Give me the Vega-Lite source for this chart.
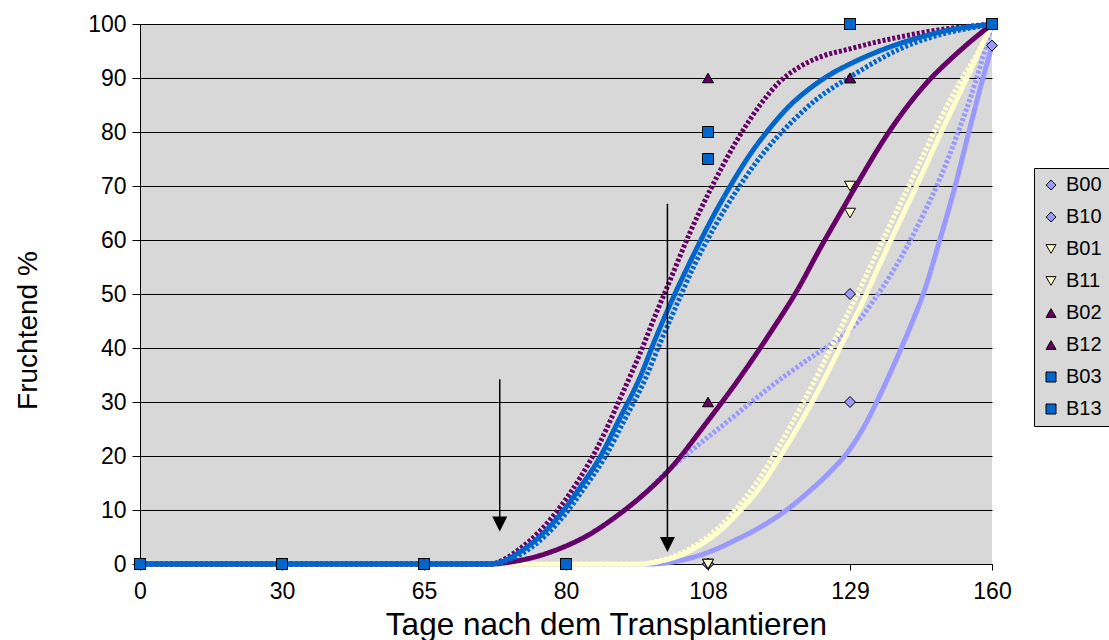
{
  "$schema": "https://vega.github.io/schema/vega-lite/v6.json",
  "autosize": {"type": "none"},
  "padding": {"left": 140, "top": 24, "right": 117, "bottom": 76},
  "width": 852,
  "height": 540,
  "background": "white",
  "config": {
    "view": {"fill": "#D8D8D8", "stroke": null},
    "font": "Liberation Sans",
    "axis": {
      "labelFont": "Liberation Sans",
      "titleFont": "Liberation Sans",
      "labelColor": "black",
      "titleColor": "black",
      "titleFontWeight": "normal",
      "domainColor": "black",
      "tickColor": "black",
      "labelFontSize": 23
    }
  },
  "datasets": {
    "kurven": [
      {"serie": "B00", "tage": 0, "pct": 0}, {"serie": "B00", "tage": 96.6, "pct": 0}, {"serie": "B00", "tage": 100.5, "pct": 0.3},
      {"serie": "B00", "tage": 104.5, "pct": 1.1}, {"serie": "B00", "tage": 108.3, "pct": 2.3}, {"serie": "B00", "tage": 112.0, "pct": 4.4},
      {"serie": "B00", "tage": 115.7, "pct": 6.8}, {"serie": "B00", "tage": 119.4, "pct": 9.8}, {"serie": "B00", "tage": 123.1, "pct": 13.6},
      {"serie": "B00", "tage": 126.0, "pct": 17}, {"serie": "B00", "tage": 129, "pct": 21.3}, {"serie": "B00", "tage": 132.3, "pct": 25.8},
      {"serie": "B00", "tage": 135.5, "pct": 31.2}, {"serie": "B00", "tage": 138.8, "pct": 37.3}, {"serie": "B00", "tage": 142.1, "pct": 43.8},
      {"serie": "B00", "tage": 145.4, "pct": 51}, {"serie": "B00", "tage": 148.6, "pct": 60}, {"serie": "B00", "tage": 151.9, "pct": 69.8},
      {"serie": "B00", "tage": 154.5, "pct": 78.5}, {"serie": "B00", "tage": 157.4, "pct": 88}, {"serie": "B00", "tage": 160, "pct": 96},

      {"serie": "B10", "tage": 0, "pct": 0}, {"serie": "B10", "tage": 72, "pct": 0}, {"serie": "B10", "tage": 74.6, "pct": 0.5},
      {"serie": "B10", "tage": 77.3, "pct": 1.6}, {"serie": "B10", "tage": 79.4, "pct": 2.9}, {"serie": "B10", "tage": 84.1, "pct": 5.2},
      {"serie": "B10", "tage": 90.6, "pct": 9.3}, {"serie": "B10", "tage": 94.6, "pct": 12.3}, {"serie": "B10", "tage": 100.5, "pct": 17.6},
      {"serie": "B10", "tage": 106.4, "pct": 22.3}, {"serie": "B10", "tage": 111.3, "pct": 26.8}, {"serie": "B10", "tage": 115.7, "pct": 31.3},
      {"serie": "B10", "tage": 120.1, "pct": 35.5}, {"serie": "B10", "tage": 124.6, "pct": 39.4}, {"serie": "B10", "tage": 127.5, "pct": 41.8},
      {"serie": "B10", "tage": 129, "pct": 43.4}, {"serie": "B10", "tage": 131.2, "pct": 45.4}, {"serie": "B10", "tage": 134.0, "pct": 48.6},
      {"serie": "B10", "tage": 137.7, "pct": 53.3}, {"serie": "B10", "tage": 141.4, "pct": 58.7}, {"serie": "B10", "tage": 144.3, "pct": 63.5},
      {"serie": "B10", "tage": 148.6, "pct": 71.3}, {"serie": "B10", "tage": 152.4, "pct": 79.5}, {"serie": "B10", "tage": 156.3, "pct": 89},
      {"serie": "B10", "tage": 160, "pct": 100},

      {"serie": "B01", "tage": 0, "pct": 0}, {"serie": "B01", "tage": 94.6, "pct": 0}, {"serie": "B01", "tage": 98.5, "pct": 0.5},
      {"serie": "B01", "tage": 102.5, "pct": 1.6}, {"serie": "B01", "tage": 106.4, "pct": 3.5}, {"serie": "B01", "tage": 109.8, "pct": 6.2},
      {"serie": "B01", "tage": 112.7, "pct": 9.8}, {"serie": "B01", "tage": 115.7, "pct": 14.2}, {"serie": "B01", "tage": 118.6, "pct": 19.8},
      {"serie": "B01", "tage": 121.6, "pct": 26}, {"serie": "B01", "tage": 124.6, "pct": 32.8}, {"serie": "B01", "tage": 127.5, "pct": 40},
      {"serie": "B01", "tage": 131.2, "pct": 47.5}, {"serie": "B01", "tage": 135.5, "pct": 55.5}, {"serie": "B01", "tage": 139.9, "pct": 63.5},
      {"serie": "B01", "tage": 144.3, "pct": 71.4}, {"serie": "B01", "tage": 148.6, "pct": 79.4}, {"serie": "B01", "tage": 153.0, "pct": 87.3},
      {"serie": "B01", "tage": 157.4, "pct": 95.2}, {"serie": "B01", "tage": 160, "pct": 100},

      {"serie": "B11", "tage": 0, "pct": 0}, {"serie": "B11", "tage": 94.6, "pct": 0}, {"serie": "B11", "tage": 98.5, "pct": 0.6},
      {"serie": "B11", "tage": 102.5, "pct": 1.9}, {"serie": "B11", "tage": 106.4, "pct": 4.0}, {"serie": "B11", "tage": 109.8, "pct": 7.0},
      {"serie": "B11", "tage": 112.7, "pct": 11.0}, {"serie": "B11", "tage": 115.7, "pct": 16.0}, {"serie": "B11", "tage": 118.6, "pct": 22.0},
      {"serie": "B11", "tage": 121.6, "pct": 28.8}, {"serie": "B11", "tage": 124.6, "pct": 36}, {"serie": "B11", "tage": 127.5, "pct": 43.4},
      {"serie": "B11", "tage": 131.2, "pct": 51}, {"serie": "B11", "tage": 135.5, "pct": 58.8}, {"serie": "B11", "tage": 139.9, "pct": 66.6},
      {"serie": "B11", "tage": 144.3, "pct": 74.4}, {"serie": "B11", "tage": 148.6, "pct": 82.2}, {"serie": "B11", "tage": 153.0, "pct": 89.2},
      {"serie": "B11", "tage": 157.4, "pct": 95.5}, {"serie": "B11", "tage": 160, "pct": 100},

      {"serie": "B02", "tage": 0, "pct": 0}, {"serie": "B02", "tage": 72, "pct": 0}, {"serie": "B02", "tage": 74.6, "pct": 0.5},
      {"serie": "B02", "tage": 77.3, "pct": 1.6}, {"serie": "B02", "tage": 79.4, "pct": 2.9}, {"serie": "B02", "tage": 84.1, "pct": 5.2},
      {"serie": "B02", "tage": 90.6, "pct": 9.3}, {"serie": "B02", "tage": 94.6, "pct": 12.3}, {"serie": "B02", "tage": 100.5, "pct": 17.6},
      {"serie": "B02", "tage": 107.8, "pct": 26.3}, {"serie": "B02", "tage": 112.7, "pct": 34.5}, {"serie": "B02", "tage": 117.2, "pct": 42.8},
      {"serie": "B02", "tage": 121.2, "pct": 50.7}, {"serie": "B02", "tage": 124.6, "pct": 58.5}, {"serie": "B02", "tage": 127.8, "pct": 65.5},
      {"serie": "B02", "tage": 130.5, "pct": 70.3}, {"serie": "B02", "tage": 137.1, "pct": 79.5}, {"serie": "B02", "tage": 144.9, "pct": 88.3},
      {"serie": "B02", "tage": 152.4, "pct": 94.6}, {"serie": "B02", "tage": 160, "pct": 100},

      {"serie": "B12", "tage": 0, "pct": 0}, {"serie": "B12", "tage": 72, "pct": 0}, {"serie": "B12", "tage": 73.6, "pct": 1.0},
      {"serie": "B12", "tage": 75.1, "pct": 2.8}, {"serie": "B12", "tage": 77.3, "pct": 6.2}, {"serie": "B12", "tage": 79.4, "pct": 10.6},
      {"serie": "B12", "tage": 82.8, "pct": 16}, {"serie": "B12", "tage": 86.7, "pct": 22.5}, {"serie": "B12", "tage": 90.6, "pct": 30.5},
      {"serie": "B12", "tage": 94.6, "pct": 39}, {"serie": "B12", "tage": 97.5, "pct": 45.8}, {"serie": "B12", "tage": 100.5, "pct": 52.5},
      {"serie": "B12", "tage": 104.5, "pct": 61.5}, {"serie": "B12", "tage": 108.3, "pct": 69.2}, {"serie": "B12", "tage": 112.3, "pct": 78.5},
      {"serie": "B12", "tage": 115.7, "pct": 85}, {"serie": "B12", "tage": 118.6, "pct": 89.3}, {"serie": "B12", "tage": 121.6, "pct": 92.1},
      {"serie": "B12", "tage": 124.6, "pct": 93.9}, {"serie": "B12", "tage": 129, "pct": 95.4}, {"serie": "B12", "tage": 134.5, "pct": 96.6},
      {"serie": "B12", "tage": 139.9, "pct": 97.6}, {"serie": "B12", "tage": 145.4, "pct": 98.5}, {"serie": "B12", "tage": 150.8, "pct": 99.2},
      {"serie": "B12", "tage": 156.3, "pct": 99.7}, {"serie": "B12", "tage": 160, "pct": 100},

      {"serie": "B03", "tage": 0, "pct": 0}, {"serie": "B03", "tage": 72, "pct": 0}, {"serie": "B03", "tage": 73.6, "pct": 0.7},
      {"serie": "B03", "tage": 75.1, "pct": 2.2}, {"serie": "B03", "tage": 77.3, "pct": 5.2}, {"serie": "B03", "tage": 79.4, "pct": 9.2},
      {"serie": "B03", "tage": 82.8, "pct": 14.2}, {"serie": "B03", "tage": 86.7, "pct": 19.8}, {"serie": "B03", "tage": 90.6, "pct": 27},
      {"serie": "B03", "tage": 94.6, "pct": 34.6}, {"serie": "B03", "tage": 97.5, "pct": 41.4}, {"serie": "B03", "tage": 100.5, "pct": 48},
      {"serie": "B03", "tage": 104.5, "pct": 56}, {"serie": "B03", "tage": 108.3, "pct": 63.3}, {"serie": "B03", "tage": 111.3, "pct": 70},
      {"serie": "B03", "tage": 114.2, "pct": 75.8}, {"serie": "B03", "tage": 117.2, "pct": 80.8}, {"serie": "B03", "tage": 120.1, "pct": 84.9},
      {"serie": "B03", "tage": 123.1, "pct": 88.1}, {"serie": "B03", "tage": 126.0, "pct": 90.6}, {"serie": "B03", "tage": 129, "pct": 92.6},
      {"serie": "B03", "tage": 134.5, "pct": 94.7}, {"serie": "B03", "tage": 139.9, "pct": 96.4}, {"serie": "B03", "tage": 145.4, "pct": 97.8},
      {"serie": "B03", "tage": 150.8, "pct": 98.9}, {"serie": "B03", "tage": 156.3, "pct": 99.6}, {"serie": "B03", "tage": 160, "pct": 100},

      {"serie": "B13", "tage": 0, "pct": 0}, {"serie": "B13", "tage": 72, "pct": 0}, {"serie": "B13", "tage": 73.9, "pct": 0.7},
      {"serie": "B13", "tage": 75.6, "pct": 2.2}, {"serie": "B13", "tage": 77.8, "pct": 5.2}, {"serie": "B13", "tage": 79.9, "pct": 9.2},
      {"serie": "B13", "tage": 83.7, "pct": 14.2}, {"serie": "B13", "tage": 87.7, "pct": 19.8}, {"serie": "B13", "tage": 91.6, "pct": 26.8},
      {"serie": "B13", "tage": 95.6, "pct": 34.2}, {"serie": "B13", "tage": 98.5, "pct": 40.8}, {"serie": "B13", "tage": 101.5, "pct": 47.3},
      {"serie": "B13", "tage": 105.4, "pct": 55.5}, {"serie": "B13", "tage": 109.0, "pct": 62.5}, {"serie": "B13", "tage": 112.0, "pct": 68.7},
      {"serie": "B13", "tage": 114.9, "pct": 74}, {"serie": "B13", "tage": 117.9, "pct": 78.6}, {"serie": "B13", "tage": 120.9, "pct": 82.5},
      {"serie": "B13", "tage": 123.8, "pct": 85.8}, {"serie": "B13", "tage": 126.8, "pct": 88.5}, {"serie": "B13", "tage": 129, "pct": 90.2},
      {"serie": "B13", "tage": 134.5, "pct": 93}, {"serie": "B13", "tage": 139.9, "pct": 95.4}, {"serie": "B13", "tage": 145.4, "pct": 97.2},
      {"serie": "B13", "tage": 150.8, "pct": 98.5}, {"serie": "B13", "tage": 156.3, "pct": 99.4}, {"serie": "B13", "tage": 160, "pct": 100}
    ],
    "punkte": [
      {"serie": "B00", "tage": 0, "pct": 0}, {"serie": "B00", "tage": 30, "pct": 0}, {"serie": "B00", "tage": 65, "pct": 0}, {"serie": "B00", "tage": 80, "pct": 0}, {"serie": "B00", "tage": 108, "pct": 0}, {"serie": "B00", "tage": 129, "pct": 30}, {"serie": "B00", "tage": 160, "pct": 96},
      {"serie": "B10", "tage": 0, "pct": 0}, {"serie": "B10", "tage": 30, "pct": 0}, {"serie": "B10", "tage": 65, "pct": 0}, {"serie": "B10", "tage": 80, "pct": 0}, {"serie": "B10", "tage": 108, "pct": 0}, {"serie": "B10", "tage": 129, "pct": 50}, {"serie": "B10", "tage": 160, "pct": 100},
      {"serie": "B01", "tage": 0, "pct": 0}, {"serie": "B01", "tage": 30, "pct": 0}, {"serie": "B01", "tage": 65, "pct": 0}, {"serie": "B01", "tage": 80, "pct": 0}, {"serie": "B01", "tage": 108, "pct": 0}, {"serie": "B01", "tage": 129, "pct": 65}, {"serie": "B01", "tage": 160, "pct": 100},
      {"serie": "B11", "tage": 0, "pct": 0}, {"serie": "B11", "tage": 30, "pct": 0}, {"serie": "B11", "tage": 65, "pct": 0}, {"serie": "B11", "tage": 80, "pct": 0}, {"serie": "B11", "tage": 108, "pct": 0}, {"serie": "B11", "tage": 129, "pct": 70}, {"serie": "B11", "tage": 160, "pct": 100},
      {"serie": "B02", "tage": 0, "pct": 0}, {"serie": "B02", "tage": 30, "pct": 0}, {"serie": "B02", "tage": 65, "pct": 0}, {"serie": "B02", "tage": 80, "pct": 0}, {"serie": "B02", "tage": 108, "pct": 30}, {"serie": "B02", "tage": 129, "pct": 90}, {"serie": "B02", "tage": 160, "pct": 100},
      {"serie": "B12", "tage": 0, "pct": 0}, {"serie": "B12", "tage": 30, "pct": 0}, {"serie": "B12", "tage": 65, "pct": 0}, {"serie": "B12", "tage": 80, "pct": 0}, {"serie": "B12", "tage": 108, "pct": 90}, {"serie": "B12", "tage": 129, "pct": 90}, {"serie": "B12", "tage": 160, "pct": 100},
      {"serie": "B03", "tage": 0, "pct": 0}, {"serie": "B03", "tage": 30, "pct": 0}, {"serie": "B03", "tage": 65, "pct": 0}, {"serie": "B03", "tage": 80, "pct": 0}, {"serie": "B03", "tage": 108, "pct": 75}, {"serie": "B03", "tage": 129, "pct": 100}, {"serie": "B03", "tage": 160, "pct": 100},
      {"serie": "B13", "tage": 0, "pct": 0}, {"serie": "B13", "tage": 30, "pct": 0}, {"serie": "B13", "tage": 65, "pct": 0}, {"serie": "B13", "tage": 80, "pct": 0}, {"serie": "B13", "tage": 108, "pct": 80}, {"serie": "B13", "tage": 129, "pct": 100}, {"serie": "B13", "tage": 160, "pct": 100}
    ],
    "pfeile": [
      {"tage": 73, "oben": 34.2, "spitze": 7.4},
      {"tage": 100, "oben": 66.7, "spitze": 3.6}
    ]
  },
  "encoding": {
    "x": {
      "field": "tage",
      "type": "quantitative",
      "scale": {
        "domain": [0, 30, 65, 80, 108, 129, 160],
        "range": [0, 142, 284, 426, 568, 710, 852],
        "nice": false,
        "zero": false
      },
      "axis": {
        "values": [0, 30, 65, 80, 108, 129, 160],
        "grid": false,
        "tickSize": 6,
        "labelPadding": 10,
        "labelFlush": false,
        "labelOverlap": false,
        "title": "Tage nach dem Transplantieren",
        "titleFontSize": 31.5,
        "titleX": 466,
        "titleY": 70,
        "titleBaseline": "alphabetic",
        "titleAlign": "center"
      }
    }
  },
  "layer": [
    {
      "data": {"name": "kurven"},
      "mark": {"type": "line", "strokeWidth": 5, "interpolate": "monotone", "strokeCap": "butt"},
      "encoding": {
        "y": {
          "field": "pct",
          "type": "quantitative",
          "scale": {"domain": [0, 100], "nice": false},
          "axis": {
            "values": [0, 10, 20, 30, 40, 50, 60, 70, 80, 90, 100],
            "grid": true,
            "gridColor": "black",
            "gridWidth": 1,
            "tickSize": 8,
            "labelPadding": 6,
            "title": "Fruchtend %",
            "titleFontSize": 28,
            "titleX": -112,
            "titleY": 306,
            "titleAngle": 270,
            "titleAlign": "center",
            "titleBaseline": "middle"
          }
        },
        "stroke": {
          "field": "serie",
          "type": "nominal",
          "scale": {
            "range": ["#9999FF", "#FFFFCC", "#660066", "#0066CC", "#9999FF", "#FFFFCC", "#660066", "#0066CC"]
          },
          "legend": null
        },
        "strokeDash": {
          "field": "serie",
          "type": "nominal",
          "scale": {
            "range": [[1, 0], [1, 0], [1, 0], [1, 0], [3, 2], [3, 2], [3, 2], [3, 2]]
          },
          "legend": null
        }
      }
    },
    {
      "data": {"name": "pfeile"},
      "mark": {"type": "rule", "color": "black", "strokeWidth": 1.5},
      "encoding": {
        "y": {"field": "oben", "type": "quantitative"},
        "y2": {"field": "spitze"}
      }
    },
    {
      "data": {"name": "pfeile"},
      "mark": {"type": "point", "shape": "M-1,-1L1,-1L0,1Z", "filled": true, "color": "black", "opacity": 1, "size": 225},
      "encoding": {
        "y": {"field": "spitze", "type": "quantitative"}
      }
    },
    {
      "data": {"name": "punkte"},
      "mark": {"type": "point", "filled": true, "opacity": 1, "stroke": "black", "strokeWidth": 1, "size": 121},
      "encoding": {
        "y": {"field": "pct", "type": "quantitative"},
        "fill": {
          "field": "serie",
          "type": "nominal",
          "scale": {
            "domain": ["B00", "B10", "B01", "B11", "B02", "B12", "B03", "B13"],
            "range": ["#9999FF", "#9999FF", "#FFFFCC", "#FFFFCC", "#660066", "#660066", "#0066CC", "#0066CC"]
          },
          "legend": {
            "orient": "none",
            "legendX": 894,
            "legendY": 144,
            "title": null,
            "fillColor": "#D8D8D8",
            "strokeColor": "black",
            "padding": 7,
            "rowPadding": 12,
            "labelFontSize": 20,
            "labelFont": "Liberation Sans",
            "labelColor": "black",
            "labelOffset": 5,
            "symbolSize": 100,
            "symbolStrokeColor": "black",
            "symbolStrokeWidth": 1
          }
        },
        "shape": {
          "field": "serie",
          "type": "nominal",
          "scale": {
            "domain": ["B00", "B10", "B01", "B11", "B02", "B12", "B03", "B13"],
            "range": ["diamond", "diamond", "triangle-down", "triangle-down", "triangle-up", "triangle-up", "square", "square"]
          }
        }
      }
    }
  ]
}
